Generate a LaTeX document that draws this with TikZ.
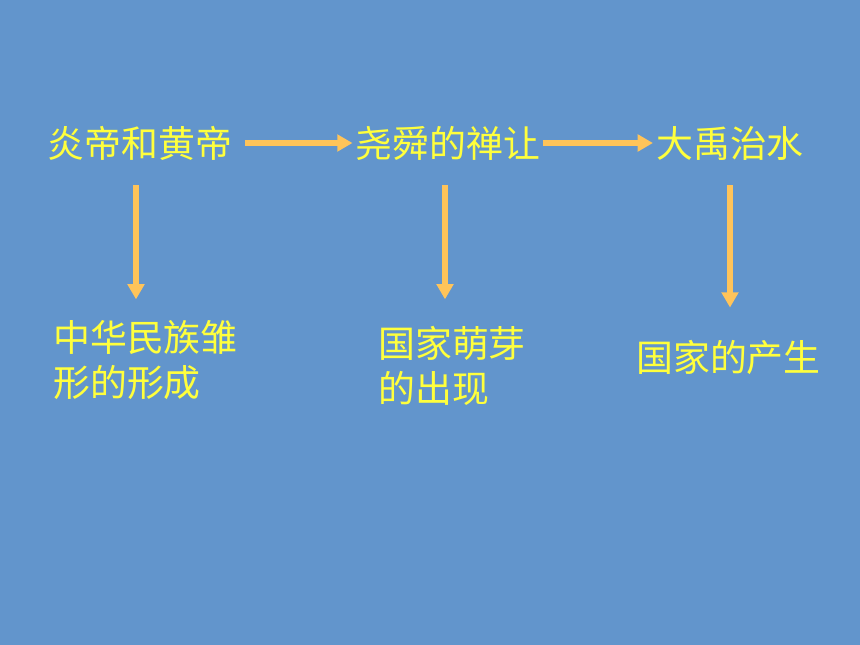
\documentclass[tikz,border=0pt]{standalone}
\usepackage{fontspec}
\newfontfamily\cjk{Noto Sans CJK SC}
\usetikzlibrary{arrows.meta,calc}
\definecolor{bgblue}{RGB}{98,149,204}
\definecolor{titleyellow}{RGB}{255,255,60}
\definecolor{arroworange}{RGB}{255,196,90}
\begin{document}
\begin{tikzpicture}[x=0.03cm,y=-0.03cm]
        % Styles
        \tikzstyle{event text}=[inner sep=0pt,text=titleyellow,font=\cjk\fontsize{31.5}{39}\selectfont]
        \tikzstyle{result text}=[event text,align=left,anchor=west]
        \tikzstyle{important arrow}=[arroworange,line width=4.3pt,-{Triangle[width=14pt,length=13pt]}]
        %background
        \fill[bgblue] (0,0) rectangle (860,645);
        %events
        \node[event text] (yandi) at (140,143) {炎帝和黄帝};
        \node[event text] (yaoshun) at (448,143) {尧舜的禅让};
        \node[event text] (dayu) at (730,143) {大禹治水};
        %results
        \node[result text] (xingcheng) at (53,360) {中华民族雏\\形的形成};
        \node[result text] (mengya) at (378,366) {国家萌芽\\的出现};
        \node[result text] (chansheng) at (636,357) {国家的产生};
        %arrows
        \draw[important arrow,shorten <=0.39cm,shorten >=0.09cm] (yandi) -- (yaoshun);
        \draw[important arrow,shorten <=0.06cm,shorten >=0.09cm] (yaoshun) -- (dayu);
        \draw[important arrow] ($(yandi.south)+(-4,25)$) -- ++(0,114);
        \draw[important arrow] ($(yaoshun.south)+(-3,25)$) -- ++(0,114);
        \draw[important arrow,shorten <=0.75cm,shorten >=0.96cm] (dayu.south) -- (dayu.south |- chansheng.north);
\end{tikzpicture}
\end{document}
